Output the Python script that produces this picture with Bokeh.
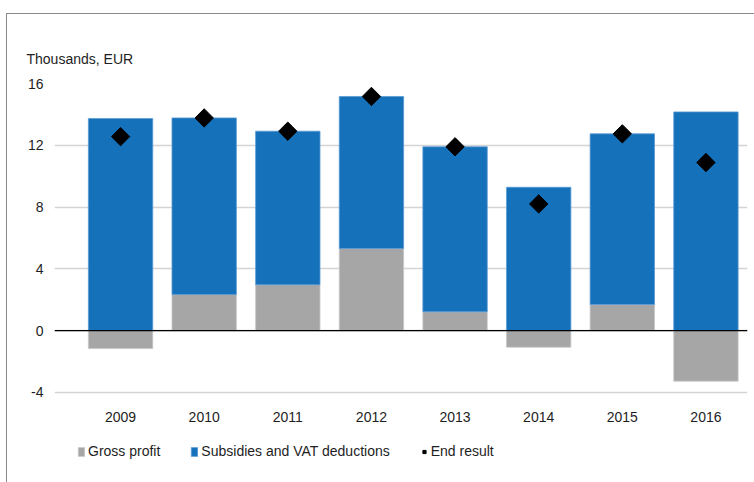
import numpy as np
from bokeh.plotting import figure
from bokeh.models import (ColumnDataSource, Range1d, FixedTicker, Span,
                          Legend, LegendItem)
from bokeh.core.properties import value
from bokeh.embed import file_html
from bokeh.resources import INLINE

years = ["2009", "2010", "2011", "2012", "2013", "2014", "2015", "2016"]
gross_profit = [-1.17, 2.33, 2.96, 5.31, 1.21, -1.08, 1.68, -3.28]
subsidies = [13.73, 11.44, 9.95, 9.85, 10.69, 9.28, 11.06, 14.16]
end_result = [12.56, 13.77, 12.91, 15.16, 11.90, 8.20, 12.74, 10.88]
y_ticks = [-4, 0, 4, 8, 12, 16]
y_tick_labels = ["-4", "0", "4", "8", "12", "16"]

FONT = "Liberation Sans, Arial, sans-serif"
FS = "14px"
TXT = "#1e1e1e"
BLUE = "#1571b9"
GREY = "#a6a6a6"
YEAR_LABEL_Y = -5.62   # layout position of the category labels (below the -4 line)

xs = np.arange(1, len(years) + 1)
g = np.array(gross_profit)
s = np.array(subsidies)
blue_bottom = np.maximum(g, 0)
src = ColumnDataSource(dict(
    x=xs, gross=g, zero=np.zeros_like(g),
    bb=blue_bottom, bt=blue_bottom + s, end=np.array(end_result),
    year=years, ly=np.full(len(years), YEAR_LABEL_Y),
))

p = figure(width=748, height=469, output_backend="svg", toolbar_location=None,
           x_range=Range1d(0.21, 8.497), y_range=Range1d(-9.13, 16),
           min_border_left=47, min_border_right=8, min_border_top=69,
           min_border_bottom=12, margin=(13, 0, 0, 6),
           styles={"border-top": "1px solid #8a8a8a", "border-left": "1px solid #8a8a8a"})
p.outline_line_color = None
p.background_fill_color = "white"
p.border_fill_color = "white"

p.title.text = "Thousands, EUR"
p.title.align = "left"
p.title.offset = -28
p.title.standoff = 34
p.title.text_font = FONT
p.title.text_font_size = FS
p.title.text_font_style = "normal"
p.title.text_color = TXT

r_grey = p.vbar(x="x", width=0.77, top="gross", bottom="zero", source=src,
                fill_color=GREY, line_color="#c8c8c8", line_width=0.8)
r_blue = p.vbar(x="x", width=0.77, top="bt", bottom="bb", source=src,
                fill_color=BLUE, line_color="#5b9bd5", line_width=0.8)
p.add_layout(Span(location=0, dimension="width", line_color="black", line_width=1.2))
r_end = p.scatter(x="x", y="end", source=src, marker="square", angle=np.pi / 4,
                  size=13, fill_color="black", line_color="black")

# category labels under the plot
p.text(x="x", y="ly", text="year", source=src, text_align="center",
       text_baseline="middle", text_font=value("Liberation Sans"),
       text_font_size=FS, text_color=TXT)

# axes
p.yaxis.ticker = FixedTicker(ticks=y_ticks)
p.yaxis.major_label_overrides = {t: l for t, l in zip(y_ticks, y_tick_labels)}
p.yaxis.axis_line_color = None
p.yaxis.major_tick_line_color = None
p.yaxis.minor_tick_line_color = None
p.yaxis.major_label_standoff = 5
p.yaxis.major_label_text_font = FONT
p.yaxis.major_label_text_font_size = FS
p.yaxis.major_label_text_color = TXT
p.xaxis.visible = False

p.xgrid.grid_line_color = None
p.ygrid.ticker = FixedTicker(ticks=y_ticks)
p.ygrid.grid_line_color = "#d4d4d4"
p.ygrid.grid_line_width = 1.5

legend = Legend(items=[
    LegendItem(label="Gross profit", renderers=[r_grey]),
    LegendItem(label="Subsidies and VAT deductions", renderers=[r_blue]),
    LegendItem(label="End result", renderers=[r_end]),
], orientation="horizontal", location=(23, 12), spacing=30, padding=0, margin=0,
    border_line_alpha=0, background_fill_alpha=0, glyph_width=8, glyph_height=11,
    label_standoff=3, label_text_font=FONT, label_text_font_size=FS,
    label_text_color=TXT)
p.add_layout(legend)

open("out.html", "w").write(file_html(p, INLINE))
